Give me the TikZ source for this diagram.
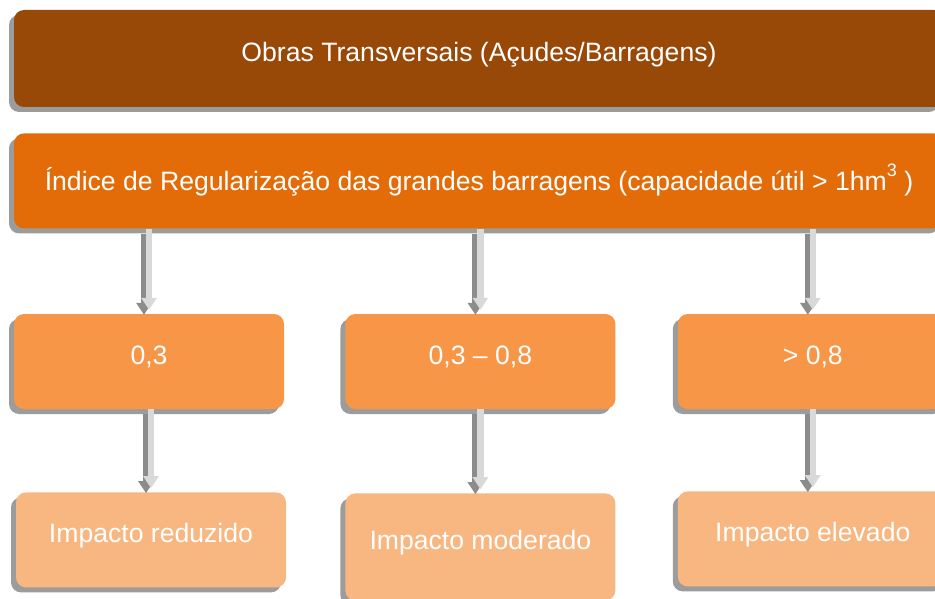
\documentclass[tikz,border=0pt]{standalone}
\usepackage{fontspec}
\setmainfont{Liberation Sans}
\usetikzlibrary{positioning,shadows,arrows.meta}
\definecolor{brownbox}{HTML}{984807}
\definecolor{orangebox}{HTML}{E36C09}
\definecolor{valuebox}{HTML}{F79646}
\definecolor{impactbox}{HTML}{F8B681}
\definecolor{shadowgrey}{HTML}{9C9C9C}
\definecolor{arrowlight}{HTML}{D9D9D9}
\definecolor{arrowdark}{HTML}{8C8C8C}
\newcommand*{\cubesup}{\raisebox{14pt}{\fontsize{18}{18}\selectfont 3}}

\begin{document}
\begin{tikzpicture}[x=1pt,y=1pt,
block/.style ={rectangle, rounded corners=10pt, text=white, align=center, font=\fontsize{26.6}{32}\selectfont, text height=19pt, text depth=13pt, drop shadow={shadow xshift=-5pt, shadow yshift=-5pt, fill=shadowgrey, opacity=1}},
block_top/.style ={block, fill=brownbox, minimum width=930pt, minimum height=97pt},
block_index/.style ={block, fill=orangebox, minimum width=930pt, minimum height=95pt, text depth=0pt},
block_value/.style ={block, fill=valuebox, minimum width=270pt, minimum height=95pt},
block_impact/.style ={block, fill=impactbox, minimum width=270pt, minimum height=95pt},
line_shade/.style ={draw=arrowdark, line width=6.5pt, -{Triangle[width=15pt,length=12pt]}, shorten >=4pt, transform canvas={shift={(-5pt,-5pt)}}},
line/.style ={draw=arrowlight, line width=6.5pt, -{Triangle[width=15pt,length=12pt]}, shorten >=4pt}]
  \path[use as bounding box, clip] (0,0) rectangle (935,-599);
  % header boxes
  \node [block_top] (works) at (479,-58.5) {Obras Transversais (Açudes/Barragens)};
  \node [block_index, below=26pt of works] (index) {Índice de Regularização das grandes barragens (capacidade útil > 1hm\cubesup\ )};
  % regularization values - row 2
  \node [block_value] (val_low) at (149,-361.5) {0,3};
  \node [block_value, right=61pt of val_low] (val_mid) {0,3 – 0,8};
  \node [block_value, right=62pt of val_mid] (val_high) {> 0,8};
  % impact - row 3
  \node [block_impact, below=83pt of val_low, xshift=2pt] (imp_low) {Impacto reduzido};
  \node [block_impact, below=84pt of val_mid, minimum height=107pt] (imp_mid) {Impacto moderado};
  \node [block_impact, below=82pt of val_high] (imp_high) {Impacto elevado};
  % connecting nodes with arrows
  \foreach \src/\dst in {index/val_low, index/val_mid, index/val_high, val_low/imp_low, val_mid/imp_mid, val_high/imp_high} {
    \path [line_shade] (\src.south -| \dst.north) -- (\dst.north);
    \path [line] (\src.south -| \dst.north) -- (\dst.north);
  }
\end{tikzpicture}
\end{document}
